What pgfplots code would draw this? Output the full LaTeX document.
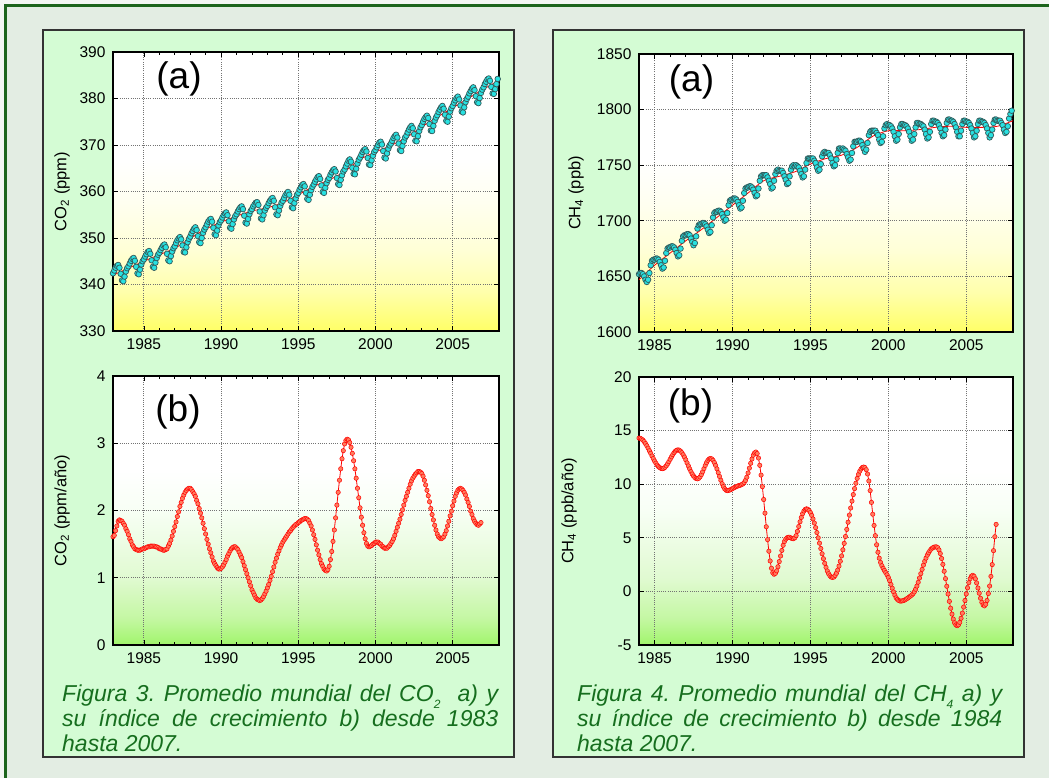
\documentclass[border=0pt]{standalone}
\usepackage{fontspec}
\setmainfont{Liberation Sans}
\usepackage{pgfplots}
\pgfplotsset{compat=1.18}
\usepackage{pgfplotstable}

\definecolor{outerbg}{RGB}{227,237,227}
\definecolor{topstrip}{RGB}{243,246,243}
\definecolor{dkgreen}{RGB}{28,100,28}
\definecolor{panelbg}{RGB}{212,252,212}
\definecolor{capgreen}{RGB}{22,110,30}
\definecolor{cyanfill}{RGB}{40,225,225}
\definecolor{cyanedge}{RGB}{50,90,90}
\definecolor{salmonfill}{RGB}{255,125,95}

\pgfdeclareverticalshading{yelshade}{100bp}{rgb(0bp)=(1,1,0.4); rgb(25bp)=(1,1,0.4); rgb(32bp)=(1,1,0.67); rgb(39.5bp)=(1,1,0.84); rgb(48bp)=(1,1,0.94); rgb(56bp)=(1,1,1); rgb(100bp)=(1,1,1)}
\pgfdeclareverticalshading{grnshade}{100bp}{rgb(0bp)=(0.63,0.96,0.42); rgb(25bp)=(0.63,0.96,0.42); rgb(30bp)=(0.77,0.97,0.64); rgb(37.5bp)=(0.88,0.98,0.82); rgb(50bp)=(0.97,1,0.96); rgb(57.5bp)=(1,1,1); rgb(100bp)=(1,1,1)}

% CO2 monthly means, Jan 1983 - Dec 2007
\pgfplotstableread[row sep=\\]{
v\\
342.4\\343.0\\343.6\\344.0\\344.2\\343.6\\342.3\\340.9\\340.7\\341.7\\342.8\\343.5\\
343.9\\344.5\\345.1\\345.5\\345.7\\345.1\\343.8\\342.4\\342.2\\343.2\\344.3\\345.0\\
345.4\\346.0\\346.5\\347.0\\347.2\\346.6\\345.2\\343.8\\343.6\\344.7\\345.7\\346.4\\
346.8\\347.4\\347.9\\348.4\\348.6\\348.0\\346.6\\345.2\\345.0\\346.1\\347.1\\347.8\\
348.2\\348.9\\349.5\\349.9\\350.2\\349.7\\348.4\\347.0\\346.9\\348.0\\349.1\\349.8\\
350.3\\351.0\\351.5\\352.0\\352.3\\351.7\\350.4\\349.1\\348.9\\350.0\\351.1\\351.8\\
352.3\\352.9\\353.5\\353.9\\354.1\\353.5\\352.2\\350.8\\350.6\\351.6\\352.7\\353.4\\
353.8\\354.4\\354.9\\355.3\\355.5\\354.9\\353.6\\352.2\\352.0\\353.0\\354.0\\354.7\\
355.1\\355.7\\356.2\\356.6\\356.8\\356.2\\354.8\\353.3\\353.1\\354.1\\355.1\\355.8\\
356.2\\356.8\\357.2\\357.6\\357.7\\357.1\\355.7\\354.2\\354.0\\354.9\\355.9\\356.5\\
356.9\\357.5\\358.0\\358.4\\358.6\\358.0\\356.6\\355.1\\354.9\\355.9\\356.9\\357.6\\
358.0\\358.6\\359.2\\359.6\\359.9\\359.3\\358.0\\356.6\\356.4\\357.5\\358.5\\359.3\\
359.7\\360.4\\360.9\\361.4\\361.6\\361.1\\359.7\\358.4\\358.2\\359.3\\360.3\\361.0\\
361.5\\362.1\\362.6\\363.1\\363.3\\362.7\\361.3\\359.9\\359.7\\360.8\\361.8\\362.5\\
362.9\\363.6\\364.1\\364.6\\364.8\\364.3\\362.9\\361.6\\361.4\\362.5\\363.5\\364.3\\
364.7\\365.4\\366.0\\366.6\\366.9\\366.4\\365.1\\363.8\\363.7\\364.9\\366.0\\366.8\\
367.3\\367.9\\368.5\\368.9\\369.1\\368.6\\367.2\\365.8\\365.7\\366.7\\367.7\\368.5\\
368.9\\369.5\\370.0\\370.5\\370.7\\370.1\\368.7\\367.3\\367.1\\368.2\\369.2\\369.9\\
370.3\\370.9\\371.5\\371.9\\372.2\\371.6\\370.3\\368.9\\368.7\\369.8\\370.8\\371.6\\
372.0\\372.7\\373.3\\373.8\\374.1\\373.6\\372.3\\370.9\\370.8\\371.9\\373.0\\373.8\\
374.3\\375.0\\375.6\\376.0\\376.3\\375.8\\374.5\\373.1\\373.0\\374.1\\375.2\\375.9\\
376.4\\377.1\\377.6\\378.1\\378.4\\377.8\\376.5\\375.2\\375.0\\376.1\\377.2\\377.9\\
378.4\\379.1\\379.6\\380.1\\380.4\\379.8\\378.5\\377.2\\377.0\\378.1\\379.2\\379.9\\
380.4\\381.1\\381.6\\382.1\\382.4\\381.8\\380.5\\379.2\\379.0\\380.1\\381.2\\381.9\\
382.4\\383.1\\383.6\\384.1\\384.3\\383.8\\382.5\\381.1\\381.0\\382.0\\383.1\\384.2\\
}\coa

% CO2 deseasonalised trend, 1 Jan 1983 ... 1 Jan 2008
\pgfplotstableread[row sep=\\]{
v\\
342.0\\343.5\\345.0\\346.4\\347.8\\349.9\\351.9\\353.4\\354.7\\355.8\\356.5\\357.6\\359.3\\
361.1\\362.5\\364.3\\366.9\\368.5\\369.9\\371.6\\373.9\\376.0\\378.0\\380.0\\382.0\\383.9\\
}\cotr

% CO2 growth rate, monthly from Jan 1983
\pgfplotstableread[row sep=\\]{
v\\
1.61\\1.63\\1.70\\1.77\\1.84\\1.86\\
1.85\\1.84\\1.81\\1.78\\1.73\\1.69\\1.64\\1.58\\1.54\\1.49\\1.46\\1.43\\1.42\\1.41\\
1.41\\1.41\\1.42\\1.43\\1.43\\1.44\\1.45\\1.46\\1.46\\1.47\\1.47\\1.47\\
1.47\\1.46\\1.46\\1.45\\1.43\\1.43\\1.42\\1.41\\1.41\\
1.42\\1.43\\1.47\\1.51\\1.56\\1.62\\1.69\\1.76\\1.83\\1.91\\1.98\\2.06\\2.12\\2.18\\2.23\\2.27\\2.30\\2.32\\2.33\\
2.33\\2.31\\2.28\\2.25\\2.21\\2.15\\2.10\\2.03\\1.96\\1.89\\1.81\\1.73\\1.65\\1.57\\1.50\\1.43\\1.37\\1.31\\1.25\\1.21\\1.18\\1.15\\1.13\\1.13\\
1.14\\1.16\\1.19\\1.23\\1.27\\1.32\\1.36\\1.40\\1.43\\1.45\\1.46\\
1.46\\1.44\\1.42\\1.38\\1.34\\1.30\\1.24\\1.18\\1.12\\1.06\\1.00\\0.94\\0.88\\0.82\\0.78\\0.74\\0.70\\0.68\\0.67\\0.66\\
0.67\\0.69\\0.72\\0.76\\0.80\\0.85\\0.90\\0.96\\1.02\\1.09\\1.16\\1.23\\1.29\\1.35\\1.40\\1.45\\1.49\\1.53\\
1.56\\1.59\\1.62\\1.65\\1.68\\1.70\\1.73\\1.75\\1.77\\1.79\\1.80\\1.82\\1.83\\1.85\\1.86\\1.87\\1.88\\1.88\\
1.87\\1.85\\1.81\\1.77\\1.71\\1.64\\1.57\\1.49\\1.41\\1.34\\1.27\\1.21\\1.17\\1.13\\1.11\\1.10\\
1.12\\1.17\\1.27\\1.39\\1.54\\1.71\\1.89\\2.08\\2.27\\2.45\\2.62\\2.77\\2.89\\2.99\\3.04\\3.06\\
3.05\\3.01\\2.94\\2.85\\2.74\\2.62\\2.48\\2.33\\2.19\\2.04\\1.90\\1.78\\1.67\\1.58\\1.51\\1.47\\1.46\\
1.47\\1.48\\1.50\\1.51\\1.53\\1.53\\
1.53\\1.51\\1.50\\1.47\\1.46\\1.44\\1.44\\
1.44\\1.46\\1.48\\1.51\\1.54\\1.58\\1.63\\1.69\\1.75\\1.81\\1.87\\1.94\\2.01\\2.08\\2.15\\2.21\\2.27\\2.33\\2.39\\2.44\\2.48\\2.51\\2.54\\2.56\\2.58\\2.58\\
2.57\\2.55\\2.51\\2.45\\2.38\\2.30\\2.22\\2.13\\2.03\\1.94\\1.86\\1.78\\1.71\\1.65\\1.61\\1.59\\1.58\\
1.59\\1.61\\1.65\\1.70\\1.77\\1.84\\1.92\\1.99\\2.07\\2.14\\2.21\\2.26\\2.30\\2.32\\2.33\\
2.32\\2.30\\2.27\\2.23\\2.17\\2.12\\2.06\\1.99\\1.94\\1.88\\1.84\\1.81\\1.79\\1.78\\1.80\\1.82\\
}\cob

% CH4 monthly means, Jan 1984 - Dec 2007
\pgfplotstableread[row sep=\\]{
v\\
1652\\1653\\1653\\1652\\1650\\1647\\1645\\1647\\1653\\1660\\1664\\1665\\
1665\\1666\\1666\\1665\\1663\\1660\\1657\\1658\\1664\\1671\\1675\\1676\\
1676\\1677\\1677\\1676\\1674\\1671\\1668\\1669\\1675\\1682\\1686\\1687\\
1687\\1688\\1688\\1687\\1684\\1681\\1678\\1680\\1686\\1693\\1696\\1697\\
1697\\1698\\1698\\1697\\1695\\1692\\1689\\1690\\1696\\1703\\1707\\1708\\
1708\\1709\\1709\\1708\\1706\\1703\\1700\\1701\\1707\\1714\\1718\\1719\\
1719\\1720\\1720\\1719\\1717\\1714\\1711\\1712\\1718\\1725\\1729\\1730\\
1730\\1731\\1731\\1730\\1728\\1725\\1722\\1723\\1729\\1736\\1740\\1741\\
1741\\1741\\1741\\1739\\1736\\1733\\1729\\1730\\1736\\1742\\1745\\1746\\
1745\\1745\\1745\\1743\\1740\\1737\\1733\\1734\\1740\\1746\\1749\\1750\\
1749\\1750\\1749\\1748\\1745\\1742\\1739\\1740\\1746\\1752\\1756\\1756\\
1756\\1756\\1756\\1754\\1752\\1748\\1745\\1746\\1751\\1758\\1761\\1762\\
1761\\1761\\1761\\1759\\1756\\1752\\1749\\1750\\1755\\1761\\1765\\1765\\
1764\\1765\\1764\\1763\\1760\\1757\\1754\\1755\\1761\\1767\\1771\\1771\\
1771\\1772\\1772\\1771\\1768\\1765\\1762\\1764\\1770\\1777\\1780\\1781\\
1781\\1781\\1781\\1779\\1777\\1773\\1770\\1771\\1776\\1783\\1786\\1787\\
1786\\1786\\1785\\1783\\1780\\1776\\1772\\1773\\1778\\1784\\1787\\1787\\
1786\\1786\\1785\\1783\\1780\\1776\\1772\\1773\\1778\\1784\\1788\\1788\\
1787\\1787\\1786\\1785\\1782\\1778\\1774\\1775\\1780\\1787\\1790\\1790\\
1789\\1789\\1788\\1786\\1783\\1779\\1776\\1777\\1782\\1788\\1791\\1791\\
1790\\1790\\1789\\1787\\1784\\1780\\1776\\1776\\1781\\1787\\1790\\1790\\
1789\\1789\\1788\\1786\\1783\\1779\\1775\\1776\\1781\\1787\\1790\\1790\\
1789\\1789\\1788\\1786\\1783\\1779\\1775\\1777\\1782\\1788\\1791\\1791\\
1790\\1790\\1790\\1788\\1786\\1782\\1779\\1780\\1785\\1792\\1796\\1799\\
}\cha

% CH4 deseasonalised trend, 1 Jan 1984 ... 1 Jan 2008
\pgfplotstableread[row sep=\\]{
v\\
1647\\1660\\1671\\1682\\1692\\1703\\1714\\1725\\1736\\1740\\1744\\1751\\1756\\
1759\\1766\\1776\\1781\\1781\\1782\\1784\\1785\\1784\\1784\\1785\\1790\\
}\chtr

% CH4 growth rate, monthly from Jan 1984
\pgfplotstableread[row sep=\\]{
v\\
14.30\\14.28\\14.21\\14.11\\13.97\\13.79\\13.59\\13.36\\13.12\\12.88\\12.63\\12.39\\12.16\\11.96\\11.78\\11.64\\11.54\\11.47\\11.45\\
11.48\\11.57\\11.71\\11.89\\12.10\\12.33\\12.55\\12.76\\12.94\\13.08\\13.17\\13.20\\
13.17\\13.08\\12.94\\12.75\\12.53\\12.27\\11.99\\11.71\\11.43\\11.18\\10.95\\10.76\\10.62\\10.53\\10.50\\
10.55\\10.68\\10.89\\11.16\\11.45\\11.74\\12.01\\12.22\\12.35\\12.40\\
12.36\\12.23\\12.02\\11.75\\11.43\\11.08\\10.72\\10.37\\10.05\\9.78\\9.57\\9.44\\9.40\\
9.42\\9.46\\9.52\\9.59\\9.66\\9.72\\9.78\\9.83\\9.87\\9.91\\9.96\\10.03\\10.15\\10.35\\10.65\\11.05\\11.50\\11.95\\12.35\\12.70\\12.92\\13.00\\
12.86\\12.44\\11.76\\10.85\\9.77\\8.57\\7.30\\6.03\\4.83\\3.75\\2.84\\2.16\\1.74\\1.60\\
1.68\\1.92\\2.30\\2.78\\3.30\\3.82\\4.30\\4.65\\4.88\\5.00\\5.05\\5.05\\4.98\\4.93\\4.92\\5.00\\5.20\\5.60\\6.05\\6.50\\6.90\\7.25\\7.50\\7.65\\7.70\\
7.66\\7.54\\7.35\\7.09\\6.76\\6.38\\5.95\\5.49\\5.00\\4.50\\4.00\\3.51\\3.05\\2.62\\2.24\\1.91\\1.65\\1.46\\1.34\\1.30\\
1.34\\1.48\\1.69\\1.99\\2.36\\2.81\\3.31\\3.88\\4.48\\5.12\\5.78\\6.45\\7.12\\7.78\\8.42\\9.03\\9.59\\10.09\\10.54\\10.91\\11.21\\11.42\\11.56\\11.60\\
11.55\\11.35\\10.95\\10.30\\9.40\\8.30\\7.20\\6.15\\5.20\\4.35\\3.65\\3.10\\2.70\\2.40\\2.15\\1.95\\1.75\\1.55\\1.30\\1.00\\0.65\\0.30\\-0.05\\-0.35\\-0.60\\-0.75\\-0.85\\-0.90\\-0.90\\
-0.88\\-0.84\\-0.78\\-0.70\\-0.62\\-0.53\\-0.44\\-0.34\\-0.22\\-0.05\\0.20\\0.50\\0.85\\1.25\\1.65\\2.05\\2.45\\2.80\\3.10\\3.38\\3.60\\3.80\\3.95\\4.05\\4.12\\4.15\\4.15\\
4.08\\3.87\\3.53\\3.07\\2.52\\1.88\\1.19\\0.48\\-0.24\\-0.93\\-1.57\\-2.12\\-2.58\\-2.92\\-3.13\\-3.20\\
-3.12\\-2.89\\-2.51\\-2.03\\-1.46\\-0.85\\-0.24\\0.33\\0.81\\1.19\\1.42\\1.50\\
1.41\\1.17\\0.79\\0.32\\-0.17\\-0.64\\-1.02\\-1.26\\-1.35\\
-1.20\\-0.85\\-0.20\\0.50\\1.40\\2.50\\3.80\\5.10\\6.25\\
}\chb

\pgfplotsset{
  myax/.style={
    scale only axis, clip=false,
    xmax=2008,
    xtick={1985,1990,...,2005}, minor x tick num=4,
    tick align=inside, tick pos=both,
    major tick length=5pt, minor tick length=3pt,
    every tick/.style={black, line width=0.7pt},
    grid=major,
    major grid style={dash pattern=on 1pt off 1.2pt, line width=0.8pt, black!55},
    axis line style={line width=1.2pt},
    tick label style={font=\fontsize{15.5}{17}\selectfont},
    xticklabel style={yshift=-4pt},
    yticklabel style={xshift=-4pt},
    /pgf/number format/assume math mode=true,
    /pgf/number format/1000 sep={},
    ylabel style={font=\fontsize{16.5}{18}\selectfont, anchor=center},
  },
  cyanmarks/.style={only marks, mark=*, mark size=2.8pt,
    mark options={fill=cyanfill, draw=cyanedge, line width=0.7pt}},
  trendline/.style={red, line width=0.8pt, smooth, no marks},
  ratemarks/.style={red, line width=0.8pt, mark=*, mark size=2.2pt,
    mark options={fill=salmonfill, draw=red, line width=0.5pt}},
}

\begin{document}
\begin{tikzpicture}[x=1pt,y=1pt]
\useasboundingbox (0,0) rectangle (1049,778);
\fill[outerbg] (0,0) rectangle (1049,778);
\fill[topstrip] (0,774) rectangle (1049,778);
\fill[topstrip] (0,0) rectangle (4,778);
\fill[dkgreen] (4,771) rectangle (1049,774);
\fill[dkgreen] (4,0) rectangle (7,774);
\filldraw[fill=panelbg, draw=black!80, line width=1.2pt] (43,21) rectangle (514,748);
\filldraw[fill=panelbg, draw=black!80, line width=1.2pt] (553,21) rectangle (1024,748);

% ---------- CO2 (a)
\begin{axis}[myax, at={(113pt,726pt)}, anchor=north west,
  width=386pt, height=279pt, xmin=1983, ymin=330, ymax=390,
  ytick={330,340,...,390},
  ylabel={CO\textsubscript{2} (ppm)},
  ylabel style={at={(axis description cs:-0.132,0.5)}},
  axis background/.style={shading=yelshade}]
\addplot[cyanmarks] table[x expr=1983+\coordindex/12, y=v] {\coa};
\addplot[trendline] table[x expr=1983+\coordindex, y=v] {\cotr};
\end{axis}

% ---------- CO2 (b)
\begin{axis}[myax, at={(113pt,402pt)}, anchor=north west,
  width=386pt, height=269pt, xmin=1983, ymin=0, ymax=4,
  ytick={0,1,2,3,4},
  ylabel={CO\textsubscript{2} (ppm/año)},
  ylabel style={at={(axis description cs:-0.132,0.5)}},
  axis background/.style={shading=grnshade}]
\addplot[ratemarks] table[x expr=1983+\coordindex/12, y=v] {\cob};
\end{axis}

% ---------- CH4 (a)
\begin{axis}[myax, at={(639pt,724pt)}, anchor=north west,
  width=374pt, height=278pt, xmin=1984, ymin=1600, ymax=1850,
  ytick={1600,1650,...,1850},
  ylabel={CH\textsubscript{4} (ppb)},
  ylabel style={at={(axis description cs:-0.168,0.5)}},
  axis background/.style={shading=yelshade}]
\addplot[cyanmarks] table[x expr=1984+\coordindex/12, y=v] {\cha};
\addplot[trendline] table[x expr=1984+\coordindex, y=v] {\chtr};
\end{axis}

% ---------- CH4 (b)
\begin{axis}[myax, at={(639pt,401pt)}, anchor=north west,
  width=374pt, height=268pt, xmin=1984, ymin=-5, ymax=20,
  ytick={-5,0,5,10,15,20},
  ylabel={CH\textsubscript{4} (ppb/año)},
  ylabel style={at={(axis description cs:-0.187,0.5)}},
  axis background/.style={shading=grnshade}]
\addplot[ratemarks] table[x expr=1984+\coordindex/12, y=v] {\chb};
\end{axis}

% panel letters
\node[font=\fontsize{37}{40}\selectfont] at (179,699) {(a)};
\node[font=\fontsize{37}{40}\selectfont] at (178,366) {(b)};
\node[font=\fontsize{37}{40}\selectfont] at (691.5,696.5) {(a)};
\node[font=\fontsize{37}{40}\selectfont] at (690.5,372) {(b)};

% captions
\node[anchor=north west, inner sep=0pt, text width=436pt, align=justify,
  font=\fontsize{23}{25}\selectfont\itshape, text=capgreen] at (62,93)
  {\noindent\frenchspacing\hyphenpenalty=10000 Figura 3. Promedio mundial del CO\raisebox{-7pt}{\fontsize{12}{12}\selectfont 2}\ \ a) y\linebreak
   su índice de crecimiento b) desde 1983\linebreak hasta 2007.};
\node[anchor=north west, inner sep=0pt, text width=425pt, align=justify,
  font=\fontsize{23}{25}\selectfont\itshape, text=capgreen] at (577,93)
  {\noindent\frenchspacing\hyphenpenalty=10000 Figura 4. Promedio mundial del CH\raisebox{-7pt}{\fontsize{12}{12}\selectfont 4} a) y\linebreak
   su índice de crecimiento b) desde 1984\linebreak hasta 2007.};
\end{tikzpicture}
\end{document}
